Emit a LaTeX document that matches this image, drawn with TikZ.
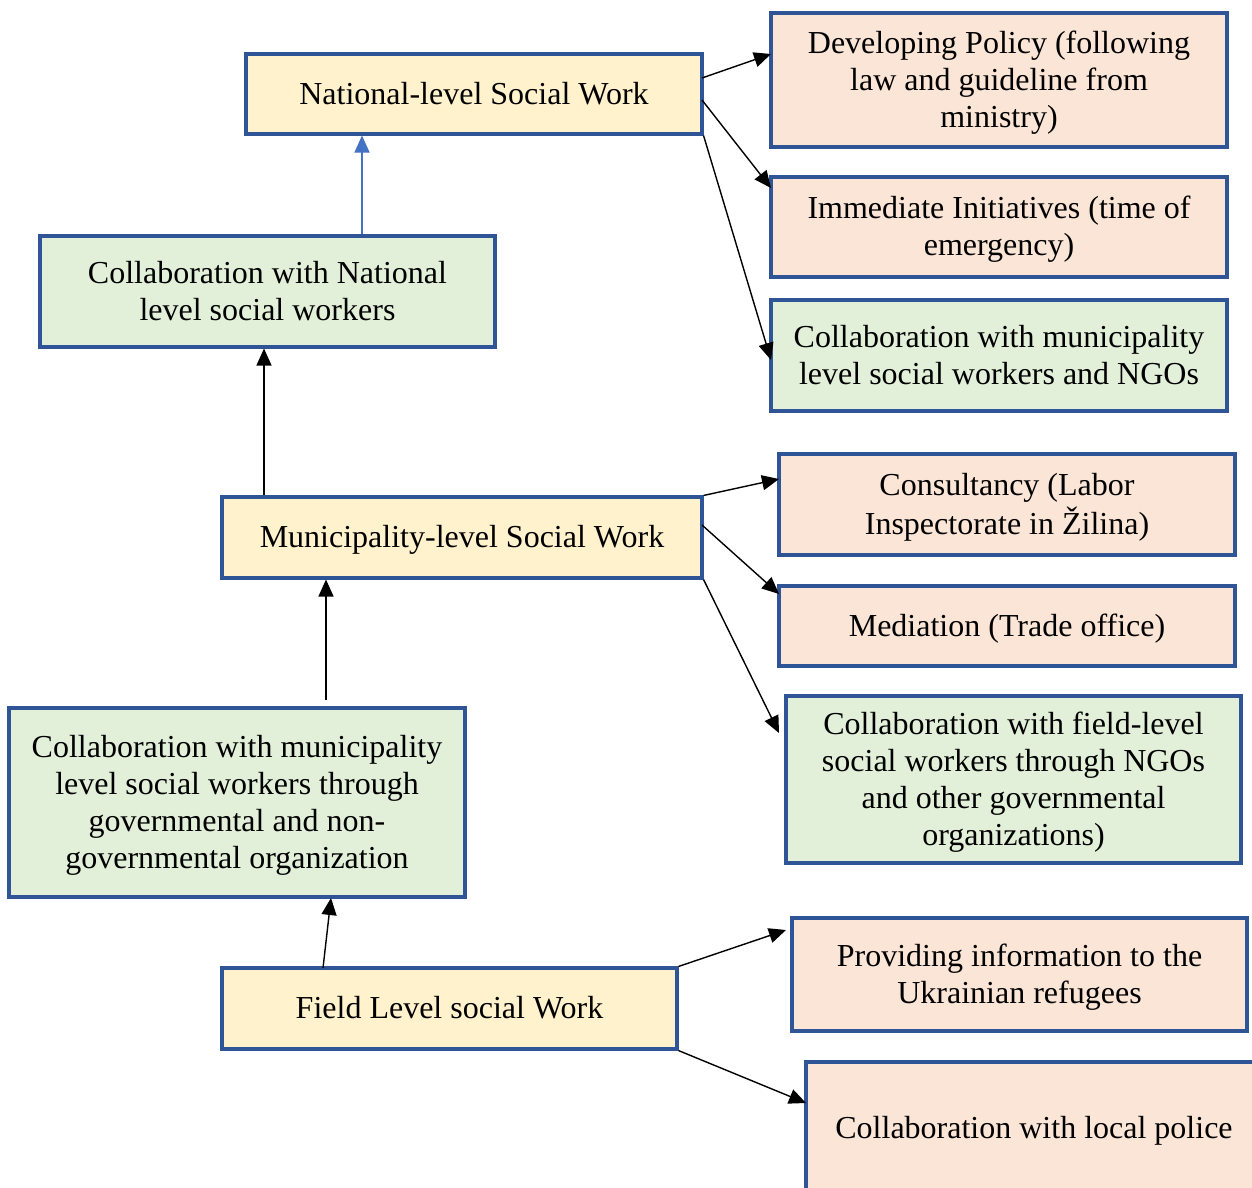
\documentclass[tikz,border=0pt]{standalone}
\usepackage{fontspec}
\setmainfont{Liberation Serif}
\usetikzlibrary{arrows.meta}
\definecolor{bordblue}{HTML}{2F5597}
\definecolor{yel}{HTML}{FFF2CC}
\definecolor{peach}{HTML}{FBE5D6}
\definecolor{grn}{HTML}{E2F0D9}
\definecolor{arrblue}{HTML}{4472C4}
\tikzset{
  box/.style={draw=bordblue, line width=3.1pt, align=center, inner sep=0pt, font=\fontsize{32}{37}\selectfont},
  ybox/.style={box, fill=yel},
  pbox/.style={box, fill=peach},
  gbox/.style={box, fill=grn},
  arr/.style={-{Triangle[length=17pt,width=15pt]}, line width=1.4pt, black},
}
\newcommand{\mybox}[7]{% name style l t r b text
  \node[#2, minimum width={#5-#3}, minimum height={#6-#4}] (#1) at ({(#3+#5)/2},{(#4+#6)/2}) {\raisebox{-3pt}[\height][\depth]{\begin{tabular}{@{}c@{}}#7\end{tabular}}};}
\begin{document}
\begin{tikzpicture}[x=1pt,y=-1pt]
\useasboundingbox (0,0) rectangle (1252,1187);
\clip (0,0) rectangle (1252,1187);
\fill[white] (0,0) rectangle (1252,1187);
\renewcommand{\arraystretch}{1}
\setlength{\tabcolsep}{0pt}
\mybox{nat}{ybox}{246}{54}{702}{134}{National-level Social Work}
\mybox{dev}{pbox}{771}{13}{1227}{147}{Developing Policy (following\\law and guideline from\\ministry)}
\mybox{imm}{pbox}{771}{177}{1227}{277}{Immediate Initiatives (time of\\emergency)}
\mybox{cmn}{gbox}{771}{300}{1227}{411}{Collaboration with municipality\\level social workers and NGOs}
\mybox{cnat}{gbox}{40}{236}{495}{347}{Collaboration with National\\level social workers}
\mybox{mun}{ybox}{222}{497}{702}{578}{Municipality-level Social Work}
\mybox{con}{pbox}{779}{454}{1235}{555}{Consultancy (Labor\\Inspectorate in Žilina)}
\mybox{med}{pbox}{779}{586}{1235}{666}{Mediation (Trade office)}
\mybox{cfl}{gbox}{786}{696}{1241}{863}{Collaboration with field-level\\social workers through NGOs\\and other governmental\\organizations)}
\mybox{cmu}{gbox}{9}{708}{465}{897}{Collaboration with municipality\\level social workers through\\governmental and non-\\governmental organization}
\mybox{fld}{ybox}{222}{968}{677}{1049}{Field Level social Work}
\mybox{pro}{pbox}{792}{918}{1247}{1031}{Providing information to the\\Ukrainian refugees}
\mybox{pol}{pbox}{806}{1062}{1262}{1194}{Collaboration with local police}
% vertical arrows
\draw[-{Triangle[length=17pt,width=15pt]}, line width=1.4pt, arrblue] (cnat.north -| 362,0) -- (nat.south -| 362,0);
\draw[arr] (mun.north -| 264,0) -- (cnat.south -| 264,0);
\coordinate (c1) at (326,700);
\draw[arr] (c1) -- (mun.south -| 326,0);
\draw[arr] (323,968) -- (331,898);
% right arrows
\draw[arr] (702,78) -- (771,54);
\draw[arr] (702,100) -- (771,188);
\draw[arr] (nat.south east) -- (771,360);
\draw[arr] (mun.north east) -- (779,479);
\draw[arr] (702,525) -- (779,594);
\draw[arr] (mun.south east) -- (779,733);
\draw[arr] (fld.north east) -- (786,930);
\draw[arr] (fld.south east) -- (806,1103);
\end{tikzpicture}
\end{document}
